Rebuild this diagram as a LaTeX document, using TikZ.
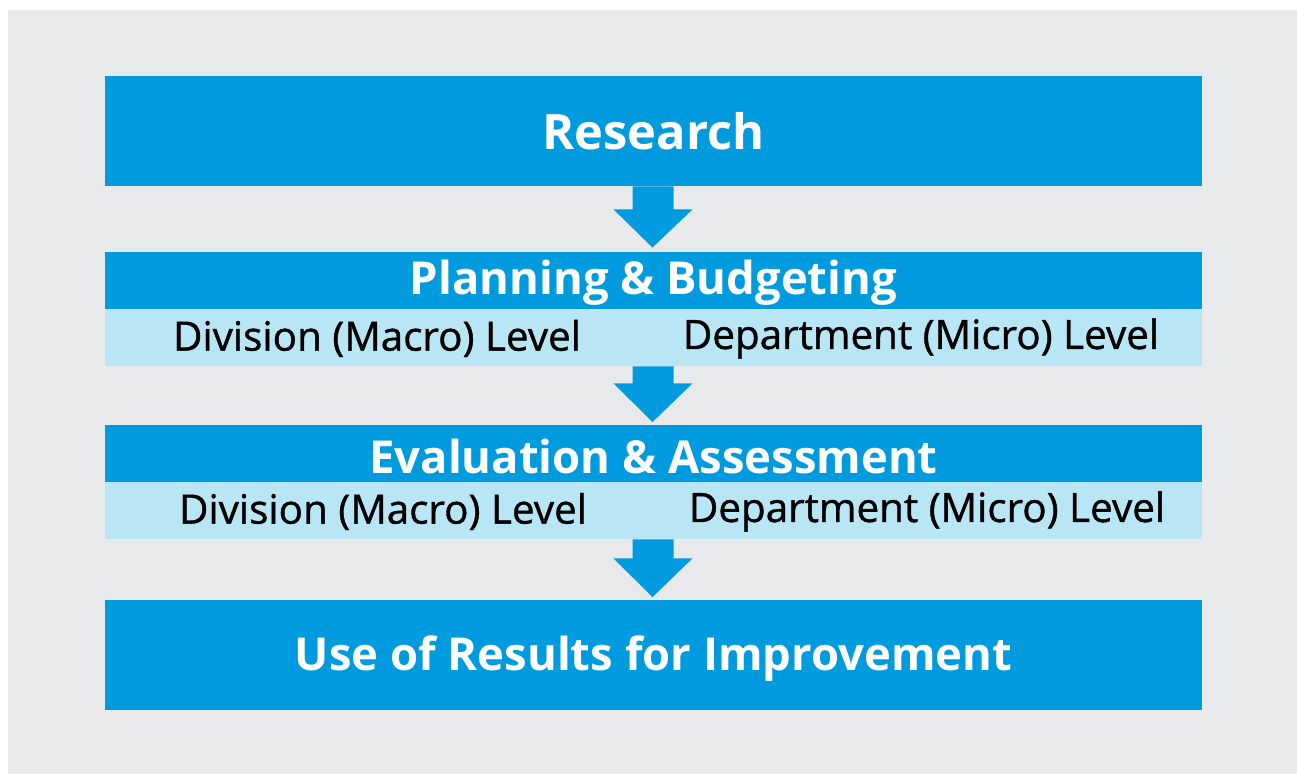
\documentclass[tikz,border=0pt]{standalone}
\usepackage{fontspec}
\setmainfont{Open Sans}
\usetikzlibrary{calc}
\definecolor{bgray}{HTML}{E8E9EB}
\definecolor{mblue}{HTML}{009BDE}
\definecolor{lblue}{HTML}{B9E6F5}
\tikzset{
  px/.style={x=0.5pt,y=-0.5pt},
  bigbox/.style={fill=mblue,inner sep=0pt,minimum width=548.5pt,minimum height=55pt},
  titlebar/.style={fill=mblue,inner sep=0pt,minimum width=548.5pt,minimum height=28.5pt},
  subbar/.style={fill=lblue,inner sep=0pt,minimum width=548.5pt,minimum height=28.5pt},
  titletext/.style={inner sep=0pt,text=white,font=\bfseries\fontsize{22.7}{27}\selectfont},
  sublabel/.style={inner sep=0pt,text=black,font=\addfontfeature{FakeBold=1}\fontsize{20.2}{24}\selectfont},
  flowarrow/.style={fill=mblue},
}
\begin{document}
\begin{tikzpicture}[px]
\useasboundingbox (0,0) rectangle (1297,774);
\fill[bgray] (8,10) rectangle (1297,774);
\node[bigbox] (research) at (653.5,131) {};
\node[titletext,font=\bfseries\fontsize{24.4}{29}\selectfont] (researchtext) at (653.5,131) {Research};
\node[titlebar] (plan) at (653.5,280.5) {};
\node[titletext] (plantext) at (653.5,283) {Planning \& Budgeting};
\node[subbar] (plansub) at (653.5,337.5) {};
\node[sublabel] (plandiv) at (377,338.5) {Division (Macro) Level};
\node[sublabel] (plandep) at (921,338.5) {Department (Micro) Level};
\node[titlebar] (eval) at (653.5,454) {};
\node[titletext] (evaltext) at (653.5,456) {Evaluation \& Assessment};
\node[subbar] (evalsub) at (653.5,510.5) {};
\node[sublabel] (evaldiv) at (383,511.5) {Division (Macro) Level};
\node[sublabel] (evaldep) at (927,511.5) {Department (Micro) Level};
\node[bigbox] (use) at (653.5,655.5) {};
\node[titletext] (usetext) at (653.5,659) {Use of Results for Improvement};
% arrows
\fill[flowarrow] ($(research.south)+(-21,0)$) -- ($(research.south)+(20,0)$)
  -- ($(research.south)+(20,23)$) -- ($(research.south)+(39,23)$)
  -- ($(plan.north)+(-1,-4)$) -- ($(research.south)+(-40,23)$)
  -- ($(research.south)+(-21,23)$) -- cycle;
\fill[flowarrow] ($(plansub.south)+(-21,0)$) -- ($(plansub.south)+(20,0)$)
  -- ($(plansub.south)+(20,17)$) -- ($(plansub.south)+(39,17)$)
  -- ($(eval.north)+(-1,-3)$) -- ($(plansub.south)+(-40,17)$)
  -- ($(plansub.south)+(-21,17)$) -- cycle;
\fill[flowarrow] ($(evalsub.south)+(-21,0)$) -- ($(evalsub.south)+(20,0)$)
  -- ($(evalsub.south)+(20,19)$) -- ($(evalsub.south)+(39,19)$)
  -- ($(use.north)+(-1,-3)$) -- ($(evalsub.south)+(-40,19)$)
  -- ($(evalsub.south)+(-21,19)$) -- cycle;
\end{tikzpicture}
\end{document}
